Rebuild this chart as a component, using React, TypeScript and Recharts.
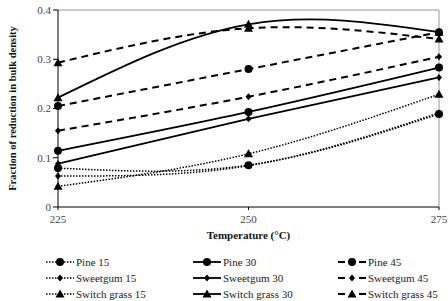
import { LineChart, Line, XAxis, YAxis, ReferenceLine } from "recharts";

const temps = [225, 250, 275];
const xTicks = [225, 250, 275];
const yTicks = [0, 0.1, 0.2, 0.3, 0.4];

const pine15 = [0.079, 0.085, 0.189];
const sweetgum15 = [0.063, 0.084, 0.191];
const switchGrass15 = [0.042, 0.108, 0.229];
const pine30 = [0.114, 0.193, 0.283];
const sweetgum30 = [0.088, 0.179, 0.263];
const switchGrass30 = [0.222, 0.371, 0.355];
const pine45 = [0.205, 0.28, 0.355];
const sweetgum45 = [0.155, 0.224, 0.305];
const switchGrass45 = [0.293, 0.363, 0.341];

type MarkerKind = "circle" | "diamond" | "triangle";
type Style = "dotted" | "solid" | "dashed";

const seriesList: { key: string; name: string; values: number[]; marker: MarkerKind; style: Style }[] = [
  { key: "pine15", name: "Pine 15", values: pine15, marker: "circle", style: "dotted" },
  { key: "pine30", name: "Pine 30", values: pine30, marker: "circle", style: "solid" },
  { key: "pine45", name: "Pine 45", values: pine45, marker: "circle", style: "dashed" },
  { key: "sweetgum15", name: "Sweetgum 15", values: sweetgum15, marker: "diamond", style: "dotted" },
  { key: "sweetgum30", name: "Sweetgum 30", values: sweetgum30, marker: "diamond", style: "solid" },
  { key: "sweetgum45", name: "Sweetgum 45", values: sweetgum45, marker: "diamond", style: "dashed" },
  { key: "switch15", name: "Switch grass 15", values: switchGrass15, marker: "triangle", style: "dotted" },
  { key: "switch30", name: "Switch grass 30", values: switchGrass30, marker: "triangle", style: "solid" },
  { key: "switch45", name: "Switch grass 45", values: switchGrass45, marker: "triangle", style: "dashed" },
];

const data = temps.map((t, i) => {
  const row: Record<string, number> = { temp: t };
  seriesList.forEach((s) => {
    row[s.key] = s.values[i];
  });
  return row;
});

const lineProps: Record<Style, { strokeWidth: number; strokeDasharray?: string }> = {
  dotted: { strokeWidth: 1.5, strokeDasharray: "1.5 1.5" },
  solid: { strokeWidth: 1.8 },
  dashed: { strokeWidth: 2, strokeDasharray: "7 5" },
};

const MarkerShape = ({ kind, cx, cy }: { kind: MarkerKind; cx: number; cy: number }) => {
  if (kind === "circle") return <circle cx={cx} cy={cy} r={4} fill="#000" />;
  if (kind === "diamond")
    return <polygon points={`${cx},${cy - 3.5} ${cx + 3},${cy} ${cx},${cy + 3.5} ${cx - 3},${cy}`} fill="#000" />;
  return <polygon points={`${cx},${cy - 4.5} ${cx + 4.5},${cy + 3.5} ${cx - 4.5},${cy + 3.5}`} fill="#000" />;
};

const renderDot = (kind: MarkerKind) => (props: any) => {
  const { cx, cy, index } = props;
  if (cx == null || cy == null) return <g key={index} />;
  return <MarkerShape key={index} kind={kind} cx={cx} cy={cy} />;
};

const YTitle = (props: any) => {
  const { x, y, height } = props.viewBox;
  const cx = x + 12;
  const cy = y + height / 2;
  return (
    <text
      x={cx}
      y={cy}
      transform={`rotate(-90, ${cx}, ${cy})`}
      textAnchor="middle"
      dominantBaseline="central"
      fontFamily="Liberation Serif"
      fontWeight="bold"
      fontSize={10.5}
      fill="#111"
    >
      Fraction of reduction in bulk density
    </text>
  );
};

const XTitle = (props: any) => {
  const { x, y, width } = props.viewBox;
  return (
    <text
      x={x + width / 2}
      y={y + 28}
      textAnchor="middle"
      dominantBaseline="central"
      fontFamily="Liberation Serif"
      fontWeight="bold"
      fontSize={11}
      fill="#111"
    >
      Temperature (°C)
    </text>
  );
};

const LegendIcon = ({ marker, style }: { marker: MarkerKind; style: Style }) => (
  <svg width={30} height={10} style={{ display: "block" }}>
    {style === "dashed" ? (
      <>
        <line x1={1} y1={5} x2={8} y2={5} stroke="#000" strokeWidth={2} />
        <line x1={22} y1={5} x2={29} y2={5} stroke="#000" strokeWidth={2} />
      </>
    ) : (
      <line x1={1} y1={5} x2={29} y2={5} stroke="#000" {...lineProps[style]} />
    )}
    <MarkerShape kind={marker} cx={15} cy={5} />
  </svg>
);

const colX = [45, 192, 337];
const rowY = [262, 278, 294];

const App = () => (
  <div style={{ position: "relative", width: 448, height: 301, background: "#fff" }}>
    <style>{"body{margin:0}"}</style>
    <LineChart width={448} height={301} data={data} margin={{ top: 10, right: 9, left: 0, bottom: 54 }}>
      <ReferenceLine y={0.4} stroke="#999" strokeWidth={1} />
      <ReferenceLine x={275} stroke="#999" strokeWidth={1} />
      <XAxis
        dataKey="temp"
        type="number"
        domain={[225, 275]}
        ticks={xTicks}
        height={40}
        stroke="#000"
        tickSize={3}
        tickMargin={5}
        tick={{ fill: "#444", fontSize: 11, fontFamily: "Liberation Serif" }}
        label={<XTitle />}
      />
      <YAxis
        domain={[0, 0.4]}
        ticks={yTicks}
        width={58}
        stroke="#000"
        tickSize={5}
        tick={{ fill: "#444", fontSize: 11, fontFamily: "Liberation Serif" }}
        tickFormatter={(v: number) => (v === 0 ? "0" : String(v))}
        label={<YTitle />}
      />
      {seriesList.map((s) => (
        <Line
          key={s.key}
          type="natural"
          dataKey={s.key}
          name={s.name}
          stroke="#000"
          {...lineProps[s.style]}
          dot={renderDot(s.marker)}
          activeDot={false}
          isAnimationActive={false}
        />
      ))}
    </LineChart>
    {seriesList.map((s, i) => {
      const col = i % 3;
      const row = Math.floor(i / 3);
      return (
        <div
          key={s.key}
          style={{
            position: "absolute",
            left: colX[col],
            top: rowY[row] - 7,
            height: 14,
            display: "flex",
            alignItems: "center",
            gap: 1,
            fontFamily: "Liberation Serif",
            fontSize: 11,
            color: "#222",
            whiteSpace: "nowrap",
          }}
        >
          <LegendIcon marker={s.marker} style={s.style} />
          <span>{s.name}</span>
        </div>
      );
    })}
  </div>
);

export default App;
